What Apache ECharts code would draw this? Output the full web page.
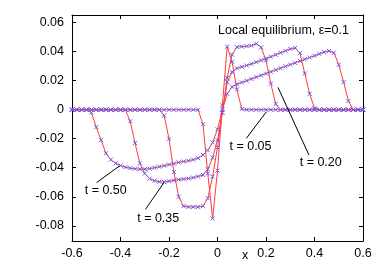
<!DOCTYPE html>
<html>
<head>
<meta charset="utf-8">
<script src="https://cdn.jsdelivr.net/npm/echarts@6/dist/echarts.min.js"></script>
<style>
html,body{margin:0;padding:0;background:#fff;}
#c{width:382px;height:267px;}
</style>
</head>
<body>
<div id="c"></div>
<script>
// x grid
const xs = [-0.6,-0.58,-0.56,-0.54,-0.52,-0.5,-0.48,-0.46,-0.44,-0.42,-0.4,-0.38,-0.36,-0.34,-0.32,-0.3,-0.28,-0.26,-0.24,-0.22,-0.2,-0.18,-0.16,-0.14,-0.12,-0.1,-0.08,-0.06,-0.04,-0.02,0,0.02,0.04,0.06,0.08,0.1,0.12,0.14,0.16,0.18,0.2,0.22,0.24,0.26,0.28,0.3,0.32,0.34,0.36,0.38,0.4,0.42,0.44,0.46,0.48,0.5,0.52,0.54,0.56,0.58,0.6];

const u_t005 = [0,0,0,0,0,0,0,0,0,0,0,0,0,0,0,0,0,0,0,0,0,0,0,0,0,0,0,
  -0.010,-0.044,-0.075,-0.042,0.003,0.0435,0.033,0.014,0.0005,
  0,0,0,0,0,0,0,0,0,0,0,0,0,0,0,0,0,0,0,0,0,0,0,0,0];

const u_t020 = [0,0,0,0,0,0,0,0,0,0,0,0,0,0,0,0,0,0,0,
  -0.004,-0.020,-0.043,-0.060,-0.0665,-0.067,-0.067,-0.067,-0.0665,-0.061,-0.046,-0.026,-0.002,0.022,0.038,0.0432,0.0435,0.0438,0.0442,0.0455,0.043,0.034,0.018,0.004,
  0,0,0,0,0,0,0,0,0,0,0,0,0,0,0,0,0,0];

const u_t035 = [0,0,0,0,0,0,0,0,0,0,0,0,
  -0.008,-0.023,-0.037,-0.044,-0.0475,-0.049,-0.0497,-0.0498,-0.0493,-0.0487,-0.0482,-0.0478,-0.0474,-0.0468,-0.046,-0.045,-0.041,-0.033,-0.021,-0.002,0.019,0.026,0.0285,0.0295,0.0305,0.0316,0.0328,0.034,0.0353,0.0366,0.0379,0.0393,0.0406,0.0419,0.0426,0.039,0.025,0.011,0.001,
  0,0,0,0,0,0,0,0,0,0];

const u_t050 = [0,0,0,0,
  -0.002,-0.012,-0.021,-0.030,-0.0345,-0.037,-0.0385,-0.0396,-0.0403,-0.0407,-0.041,-0.041,-0.0406,-0.04,-0.0393,-0.0386,-0.0378,-0.0371,-0.0363,-0.0357,-0.0352,-0.0344,-0.0334,-0.0312,-0.028,-0.0225,-0.0135,0.0,0.011,0.0158,0.0176,0.0188,0.020,0.0212,0.0225,0.0237,0.0249,0.0262,0.0274,0.0286,0.0299,0.0311,0.0323,0.0336,0.0348,0.036,0.0372,0.0385,0.0397,0.0405,0.0393,0.031,0.019,0.006,
  0,0,0];

const curves = [u_t005, u_t020, u_t035, u_t050];

// annotations: label text, label centre, arrow start, arrow tip (data coords)
const annLabels = ['t = 0.50', 't = 0.35', 't = 0.05', 't = 0.20'];
const annLabelPos = [[-0.461,-0.0554],[-0.2445,-0.0747],[0.136,-0.0255],[0.4256,-0.0366]];
const annArrowFrom = [[-0.499,-0.0503],[-0.297,-0.0687],[0.119,-0.0197],[0.377,-0.0312]];
const annArrowTo = [[-0.403,-0.0386],[-0.221,-0.0503],[0.2017,-0.0014],[0.2495,0.0154]];

const titleText = 'Local equilibrium, \u03b5=0.1';

const FONT = '"Liberation Sans", Arial, Helvetica, sans-serif';
const chart = echarts.init(document.getElementById('c'), null, {renderer:'canvas'});

const xMin = -0.6, xMax = 0.6, yMin = -0.0905, yMax = 0.0653;

const axisCommon = {
  axisLine:{show:true, onZero:false, lineStyle:{color:'#000', width:1}},
  axisTick:{show:true, inside:true, length:4, lineStyle:{color:'#000', width:1}},
  splitLine:{show:false}
};

const series = curves.map((ys, k) => ({
  type:'line',
  data: xs.map((x,i) => [x, ys[i]]),
  showSymbol:true,
  symbol:'path://M0,0L10,10M10,0L0,10',
  symbolSize:4,
  itemStyle:{color:'#5a5aff', borderColor:'#5a5aff', borderWidth:1},
  lineStyle:{color:'#ff3a3a', width:1},
  z: 2 + k,
  animation:false
}));

series[0].markLine = {
  silent:true,
  animation:false,
  symbol:['none','arrow'],
  symbolSize:[0,7],
  lineStyle:{color:'#000', width:1, type:'solid'},
  label:{show:false},
  data: annArrowFrom.map((p,i) => [{coord:p}, {coord:annArrowTo[i]}])
};

chart.setOption({
  animation:false,
  backgroundColor:'#fff',
  grid:{left:72, right:19, top:15, bottom:26, containLabel:false},
  xAxis:[
    Object.assign({type:'value', min:xMin, max:xMax, interval:0.2, position:'bottom',
      axisLabel:{color:'#000', fontFamily:FONT, fontSize:12.5, margin:6}}, axisCommon),
    Object.assign({type:'value', min:xMin, max:xMax, interval:0.2, position:'top',
      axisLabel:{show:false}}, axisCommon)
  ],
  yAxis:[
    Object.assign({type:'value', min:yMin, max:yMax, minInterval:0.02, maxInterval:0.02, position:'left',
      axisLabel:{color:'#000', fontFamily:FONT, fontSize:12.5, margin:8, showMinLabel:false, showMaxLabel:false}}, axisCommon),
    Object.assign({type:'value', min:yMin, max:yMax, minInterval:0.02, maxInterval:0.02, position:'right',
      axisLabel:{show:false}}, axisCommon)
  ],
  series: series
});

const g = [];
annLabels.forEach((t,i) => {
  const p = chart.convertToPixel({xAxisIndex:0, yAxisIndex:0}, annLabelPos[i]);
  g.push({type:'text', x:p[0], y:p[1], style:{text:t, fill:'#000', font:'12.5px ' + FONT, textAlign:'center', textVerticalAlign:'middle'}});
});
g.push({type:'text', x:349, y:31, style:{text:titleText, fill:'#000', font:'12.5px ' + FONT, textAlign:'right', textVerticalAlign:'middle'}});
g.push({type:'text', x:245, y:256, style:{text:'x', fill:'#000', font:'12.5px ' + FONT, textAlign:'center', textVerticalAlign:'middle'}});
chart.setOption({graphic:g});
</script>
</body>
</html>
